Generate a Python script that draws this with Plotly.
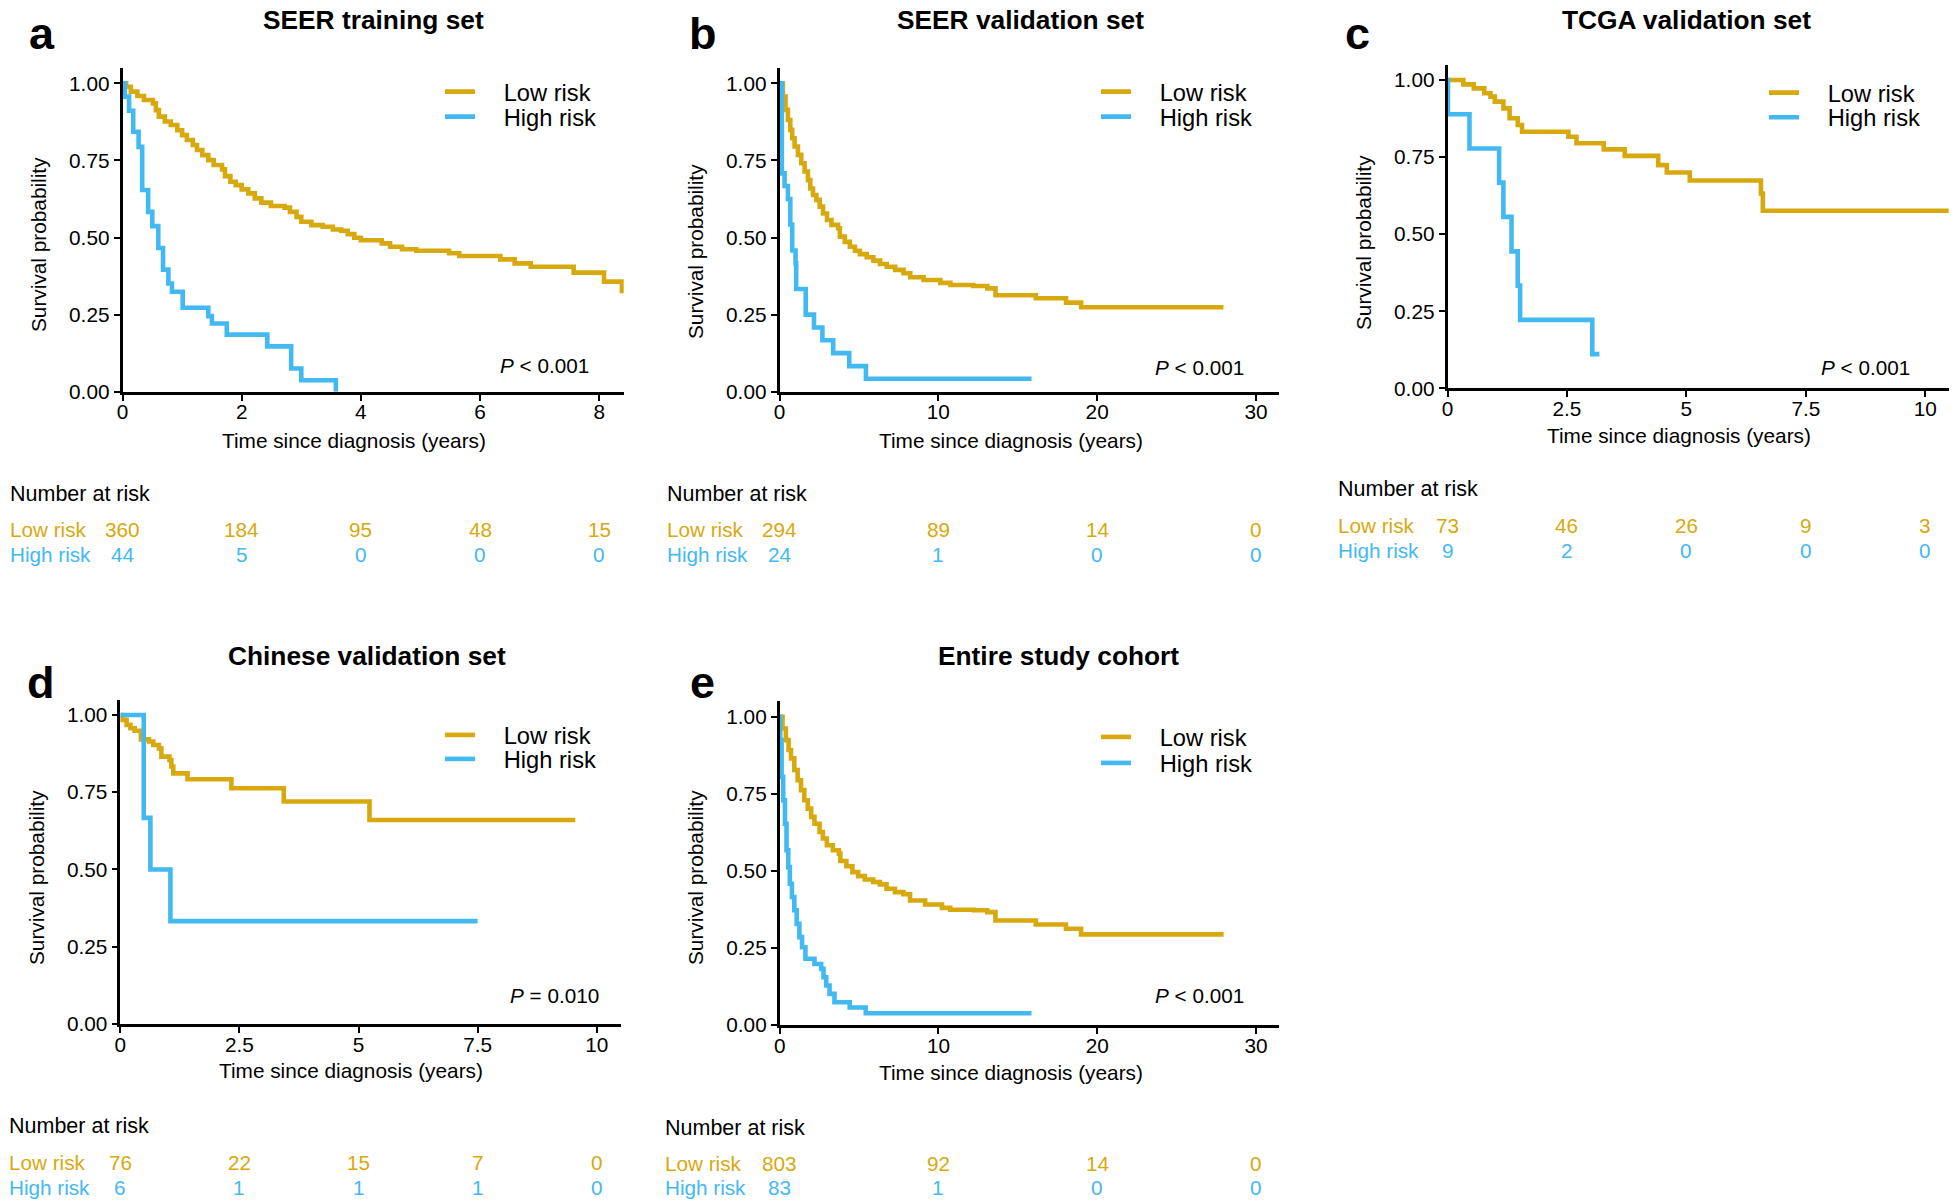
import plotly.graph_objects as go

W, H = 1956, 1203
GOLD = '#D7A90F'
BLUE = '#43B9F2'
FONT = 'Liberation Sans, Arial, sans-serif'

# ---------------- data ----------------
titles = ['SEER training set', 'SEER validation set', 'TCGA validation set',
          'Chinese validation set', 'Entire study cohort']
letters = ['a', 'b', 'c', 'd', 'e']
group_names = ['Low risk', 'High risk']
p_texts = ['<i>P</i> < 0.001', '<i>P</i> < 0.001', '<i>P</i> < 0.001',
           '<i>P</i> = 0.010', '<i>P</i> < 0.001']

# a: SEER training set
a_low_t = [0, 0.06, 0.14, 0.25, 0.36, 0.51, 0.56, 0.61, 0.71, 0.81, 0.92, 1.00, 1.08, 1.18,
           1.25, 1.34, 1.44, 1.53, 1.67, 1.72, 1.81, 1.90, 2.00, 2.11, 2.22, 2.33, 2.49, 2.72,
           2.81, 2.92, 3.00, 3.17, 3.36, 3.53, 3.67, 3.78, 3.89, 4.00, 4.35, 4.49, 4.69, 4.93,
           5.48, 5.65, 6.34, 6.58, 6.85, 7.57, 8.08, 8.38]
a_low_s = [1.0, 0.989, 0.973, 0.959, 0.946, 0.935, 0.913, 0.892, 0.876, 0.865, 0.848, 0.832,
           0.816, 0.800, 0.784, 0.767, 0.751, 0.735, 0.721, 0.699, 0.681, 0.670, 0.656, 0.643,
           0.627, 0.613, 0.602, 0.597, 0.583, 0.567, 0.551, 0.540, 0.535, 0.526, 0.522, 0.511,
           0.499, 0.491, 0.481, 0.470, 0.462, 0.457, 0.449, 0.440, 0.429, 0.416, 0.405, 0.386,
           0.357, 0.319]
a_high_t = [0, 0.04, 0.11, 0.18, 0.27, 0.33, 0.43, 0.50, 0.60, 0.68, 0.77, 0.83, 1.01, 1.44,
            1.50, 1.75, 2.43, 2.83, 3.00, 3.58]
a_high_s = [1.0, 0.957, 0.911, 0.843, 0.794, 0.654, 0.583, 0.537, 0.466, 0.396, 0.351, 0.324,
            0.272, 0.245, 0.221, 0.185, 0.147, 0.075, 0.037, 0.0]

# b: SEER validation set
b_low_t = [0, 0.21, 0.38, 0.53, 0.68, 0.80, 0.95, 1.16, 1.37, 1.58, 1.79, 1.94, 2.11, 2.32,
           2.53, 2.74, 2.99, 3.27, 3.69, 3.80, 4.11, 4.43, 4.75, 5.06, 5.49, 5.91, 6.33, 6.75,
           7.28, 7.81, 8.23, 9.07, 10.13, 10.76, 12.2, 13.08, 13.6, 16.14, 18.04, 18.99, 27.95]
b_low_s = [1.0, 0.957, 0.914, 0.881, 0.849, 0.822, 0.795, 0.768, 0.741, 0.714, 0.686, 0.659,
           0.638, 0.622, 0.600, 0.578, 0.557, 0.541, 0.530, 0.503, 0.486, 0.470, 0.457, 0.446,
           0.436, 0.425, 0.414, 0.405, 0.395, 0.384, 0.371, 0.362, 0.353, 0.346, 0.343, 0.335,
           0.313, 0.303, 0.289, 0.274, 0.274]
b_high_t = [0, 0.15, 0.32, 0.53, 0.68, 0.80, 1.01, 1.05, 1.65, 2.17, 2.70, 3.38, 4.39, 5.44, 15.87]
b_high_s = [1.0, 0.708, 0.667, 0.625, 0.542, 0.458, 0.417, 0.333, 0.250, 0.208, 0.167, 0.125,
            0.083, 0.042, 0.042]

# c: TCGA validation set
c_low_t = [0, 0.33, 0.55, 0.77, 0.90, 0.99, 1.17, 1.30, 1.47, 1.56, 2.53, 2.70, 3.27, 3.71,
           4.41, 4.59, 5.07, 6.56, 6.60, 10.6]
c_low_s = [1.0, 0.986, 0.973, 0.957, 0.946, 0.930, 0.908, 0.876, 0.854, 0.832, 0.816, 0.795,
           0.775, 0.754, 0.724, 0.700, 0.674, 0.632, 0.576, 0.576]
c_high_t = [0, 0.01, 0.46, 1.08, 1.17, 1.34, 1.47, 1.52, 3.03, 3.18]
c_high_s = [1.0, 0.889, 0.778, 0.667, 0.556, 0.444, 0.333, 0.222, 0.111, 0.111]

# d: Chinese validation set
d_low_t = [0, 0.04, 0.13, 0.21, 0.30, 0.43, 0.60, 0.69, 0.81, 0.86, 1.03, 1.07, 1.11, 1.41,
           2.33, 3.43, 5.23, 9.55]
d_low_s = [1.0, 0.984, 0.968, 0.957, 0.949, 0.921, 0.914, 0.903, 0.892, 0.865, 0.854, 0.833,
           0.811, 0.792, 0.763, 0.720, 0.660, 0.660]
d_high_t = [0, 0.49, 0.63, 1.05, 7.5]
d_high_s = [1.0, 0.667, 0.5, 0.333, 0.333]

# e: Entire study cohort
e_low_t = [0, 0.18, 0.39, 0.56, 0.71, 0.92, 1.13, 1.34, 1.55, 1.77, 1.98, 2.19, 2.51, 2.72,
           2.97, 3.35, 3.73, 3.82, 4.20, 4.58, 4.94, 5.36, 5.89, 6.31, 6.73, 7.26, 7.79, 8.21,
           9.16, 10.22, 10.74, 12.22, 13.07, 13.59, 16.13, 18.03, 18.98, 27.96]
e_low_s = [1.0, 0.962, 0.924, 0.892, 0.865, 0.827, 0.794, 0.762, 0.729, 0.702, 0.675, 0.653,
           0.626, 0.605, 0.583, 0.567, 0.556, 0.532, 0.515, 0.496, 0.483, 0.472, 0.464, 0.456,
           0.442, 0.431, 0.424, 0.404, 0.391, 0.380, 0.374, 0.372, 0.366, 0.339, 0.326, 0.312,
           0.294, 0.294]
e_high_t = [0, 0.03, 0.12, 0.22, 0.33, 0.43, 0.54, 0.64, 0.77, 0.92, 1.07, 1.24, 1.41, 1.62,
            2.19, 2.61, 2.76, 2.93, 3.14, 3.45, 4.41, 5.42, 15.86]
e_high_s = [1.0, 0.924, 0.805, 0.729, 0.653, 0.567, 0.512, 0.458, 0.415, 0.372, 0.328, 0.285,
            0.252, 0.215, 0.198, 0.182, 0.155, 0.128, 0.101, 0.074, 0.057, 0.038, 0.038]

# axis ticks
a_tickvals = [0, 2, 4, 6, 8]
a_ticktext = ['0', '2', '4', '6', '8']
b_tickvals = [0, 10, 20, 30]
b_ticktext = ['0', '10', '20', '30']
c_tickvals = [0, 2.5, 5, 7.5, 10]
c_ticktext = ['0', '2.5', '5', '7.5', '10']
y_tickvals = [0, 0.25, 0.5, 0.75, 1.0]
y_ticktext = ['0.00', '0.25', '0.50', '0.75', '1.00']

# number at risk tables
a_risk_times = [0, 2, 4, 6, 8]
a_risk_low = [360, 184, 95, 48, 15]
a_risk_high = [44, 5, 0, 0, 0]
b_risk_times = [0, 10, 20, 30]
b_risk_low = [294, 89, 14, 0]
b_risk_high = [24, 1, 0, 0]
c_risk_times = [0, 2.5, 5, 7.5, 10]
c_risk_low = [73, 46, 26, 9, 3]
c_risk_high = [9, 2, 0, 0, 0]
d_risk_times = [0, 2.5, 5, 7.5, 10]
d_risk_low = [76, 22, 15, 7, 0]
d_risk_high = [6, 1, 1, 1, 0]
e_risk_times = [0, 10, 20, 30]
e_risk_low = [803, 92, 14, 0]
e_risk_high = [83, 1, 0, 0]

x_title = 'Time since diagnosis (years)'
y_title = 'Survival probability'
risk_header = 'Number at risk'

# ---------------- layout geometry (page pixels) ----------------
def px(x):
    return min(1.0, max(0.0, x / W))


def py(y):
    return min(1.0, max(0.0, 1 - y / H))


panels = [
    dict(low=(a_low_t, a_low_s), high=(a_high_t, a_high_s), ticks=(a_tickvals, a_ticktext),
         risk=(a_risk_times, a_risk_low, a_risk_high),
         x0=122.5, x1=623.7, ybot=391.7, ytop=67.9, xmax=8.41,
         title=(373, 19.5), letter=(27, 34), leg=(445, 91.7, 116.7), p=(544, 365),
         xt=(354, 440), yt=(38, 245), tab=(8, 494, 529, 554)),
    dict(low=(b_low_t, b_low_s), high=(b_high_t, b_high_s), ticks=(b_tickvals, b_ticktext),
         risk=(b_risk_times, b_risk_low, b_risk_high),
         x0=779.5, x1=1279.2, ybot=391.7, ytop=67.9, xmax=31.46,
         title=(1021, 19.5), letter=(687, 34), leg=(1101, 91.7, 116.7), p=(1199, 367),
         xt=(1011, 440), yt=(695, 252), tab=(665, 494, 529, 554)),
    dict(low=(c_low_t, c_low_s), high=(c_high_t, c_high_s), ticks=(c_tickvals, c_ticktext),
         risk=(c_risk_times, c_risk_low, c_risk_high),
         x0=1447.5, x1=1948.7, ybot=388.3, ytop=64.6, xmax=10.49,
         title=(1686, 19.5), letter=(1343, 34), leg=(1769, 92.7, 117.3), p=(1865, 367),
         xt=(1679, 435), yt=(1364, 243), tab=(1336, 489, 525, 550)),
    dict(low=(d_low_t, d_low_s), high=(d_high_t, d_high_s), ticks=(c_tickvals, c_ticktext),
         risk=(d_risk_times, d_risk_low, d_risk_high),
         x0=120.4, x1=620.5, ybot=1024, ytop=699.5, xmax=10.5,
         title=(367, 656), letter=(25, 682), leg=(445, 735, 759), p=(554, 995),
         xt=(351, 1070), yt=(36, 878), tab=(7, 1126, 1162, 1187)),
    dict(low=(e_low_t, e_low_s), high=(e_high_t, e_high_s), ticks=(b_tickvals, b_ticktext),
         risk=(e_risk_times, e_risk_low, e_risk_high),
         x0=779.7, x1=1279.2, ybot=1025, ytop=701.3, xmax=31.46,
         title=(1058, 656), letter=(688, 682), leg=(1101, 737, 763), p=(1199, 995),
         xt=(1011, 1072), yt=(695, 878), tab=(663, 1128, 1163, 1187)),
]

fig = go.Figure()
annotations = []
layout_extra = {}
GAP = '\u2002\u2002'

for i, pn in enumerate(panels):
    k = i + 1
    suffix = '' if k == 1 else str(k)
    xa, ya = 'x' + suffix, 'y' + suffix
    leg_low = 'legend' if 2 * i + 1 == 1 else 'legend%d' % (2 * i + 1)
    leg_high = 'legend%d' % (2 * i + 2)

    for (t, s), color, name, lg in [(pn['low'], GOLD, group_names[0], leg_low),
                                     (pn['high'], BLUE, group_names[1], leg_high)]:
        fig.add_trace(go.Scatter(x=t, y=s, mode='lines', line=dict(color=color, width=4.6, shape='hv'),
                                 name=GAP + name, xaxis=xa, yaxis=ya, legend=lg,
                                 hoverinfo='skip'))

    tv, tt = pn['ticks']
    axis_common = dict(showline=True, linecolor='black', linewidth=2.6, ticks='outside', ticklen=6,
                       tickwidth=2.2, tickcolor='black', showgrid=False, zeroline=False,
                       automargin=False,
                       tickfont=dict(size=20.8, color='black', family=FONT), fixedrange=True)
    layout_extra['xaxis' + suffix] = dict(domain=[px(pn['x0']), px(pn['x1'])], range=[0, pn['xmax']],
                                          anchor=ya, tickvals=tv, ticktext=tt,
                                          ticklabelstandoff=-6, **axis_common)
    layout_extra['yaxis' + suffix] = dict(domain=[py(pn['ybot']), py(pn['ytop'])], range=[0, 1.05],
                                          anchor=xa, tickvals=y_tickvals, ticktext=y_ticktext,
                                          **axis_common)

    # legends (one per entry, positioned exactly)
    lx, ly1, ly2 = pn['leg']
    for lg, yy in [(leg_low, ly1), (leg_high, ly2)]:
        layout_extra[lg] = dict(x=px(lx - 5), y=py(yy), xanchor='left', yanchor='middle',
                                bgcolor='rgba(0,0,0,0)', borderwidth=0,
                                font=dict(size=23.7, color='black', family=FONT))

    # title, letter, p value, axis titles
    annotations.append(dict(text='<b>%s</b>' % titles[i], x=px(pn['title'][0]), y=py(pn['title'][1]),
                            xref='paper', yref='paper', xanchor='center', yanchor='middle',
                            borderpad=0, borderwidth=0,
                            showarrow=False, font=dict(size=26.3, color='black', family=FONT)))
    annotations.append(dict(text='<b>%s</b>' % letters[i], x=px(pn['letter'][0]), y=py(pn['letter'][1]),
                            xref='paper', yref='paper', xanchor='left', yanchor='middle',
                            showarrow=False, font=dict(size=45, color='black', family=FONT)))
    annotations.append(dict(text=p_texts[i], x=px(pn['p'][0]), y=py(pn['p'][1]),
                            xref='paper', yref='paper', xanchor='center', yanchor='middle',
                            showarrow=False, font=dict(size=20.7, color='black', family=FONT)))
    annotations.append(dict(text=x_title, x=px(pn['xt'][0]), y=py(pn['xt'][1]),
                            xref='paper', yref='paper', xanchor='center', yanchor='middle',
                            showarrow=False, font=dict(size=20.8, color='black', family=FONT)))
    annotations.append(dict(text=y_title, x=px(pn['yt'][0]), y=py(pn['yt'][1]), textangle=-90,
                            xref='paper', yref='paper', xanchor='center', yanchor='middle',
                            showarrow=False, font=dict(size=20.8, color='black', family=FONT)))

    # number at risk table
    tx, thead, tlow, thigh = pn['tab']
    times, lows, highs = pn['risk']
    annotations.append(dict(text=risk_header, x=px(tx), y=py(thead), xref='paper', yref='paper',
                            xanchor='left', yanchor='middle', showarrow=False,
                            font=dict(size=21.5, color='black', family=FONT)))
    for name, yy, color, vals in [(group_names[0], tlow, GOLD, lows), (group_names[1], thigh, BLUE, highs)]:
        annotations.append(dict(text=name, x=px(tx), y=py(yy), xref='paper', yref='paper',
                                xanchor='left', yanchor='middle', showarrow=False,
                                font=dict(size=20.7, color=color, family=FONT)))
        for t, v in zip(times, vals):
            annotations.append(dict(text=str(v), x=t, y=py(yy), xref=xa, yref='paper',
                                    xanchor='center', yanchor='middle', showarrow=False,
                                    font=dict(size=20.7, color=color, family=FONT)))

fig.update_layout(width=W, height=H,
                  margin=dict(l=0, r=0, t=0, b=0, pad=0, autoexpand=False),
                  paper_bgcolor='white', plot_bgcolor='white', showlegend=True,
                  font=dict(family=FONT, color='black'), annotations=annotations,
                  **layout_extra)

# remove the browser's default 8px page margin so the figure fills the window exactly
fig.write_html('out.html', config={'displayModeBar': False},
               post_script="document.body.style.margin='0';document.body.style.overflow='hidden';")
